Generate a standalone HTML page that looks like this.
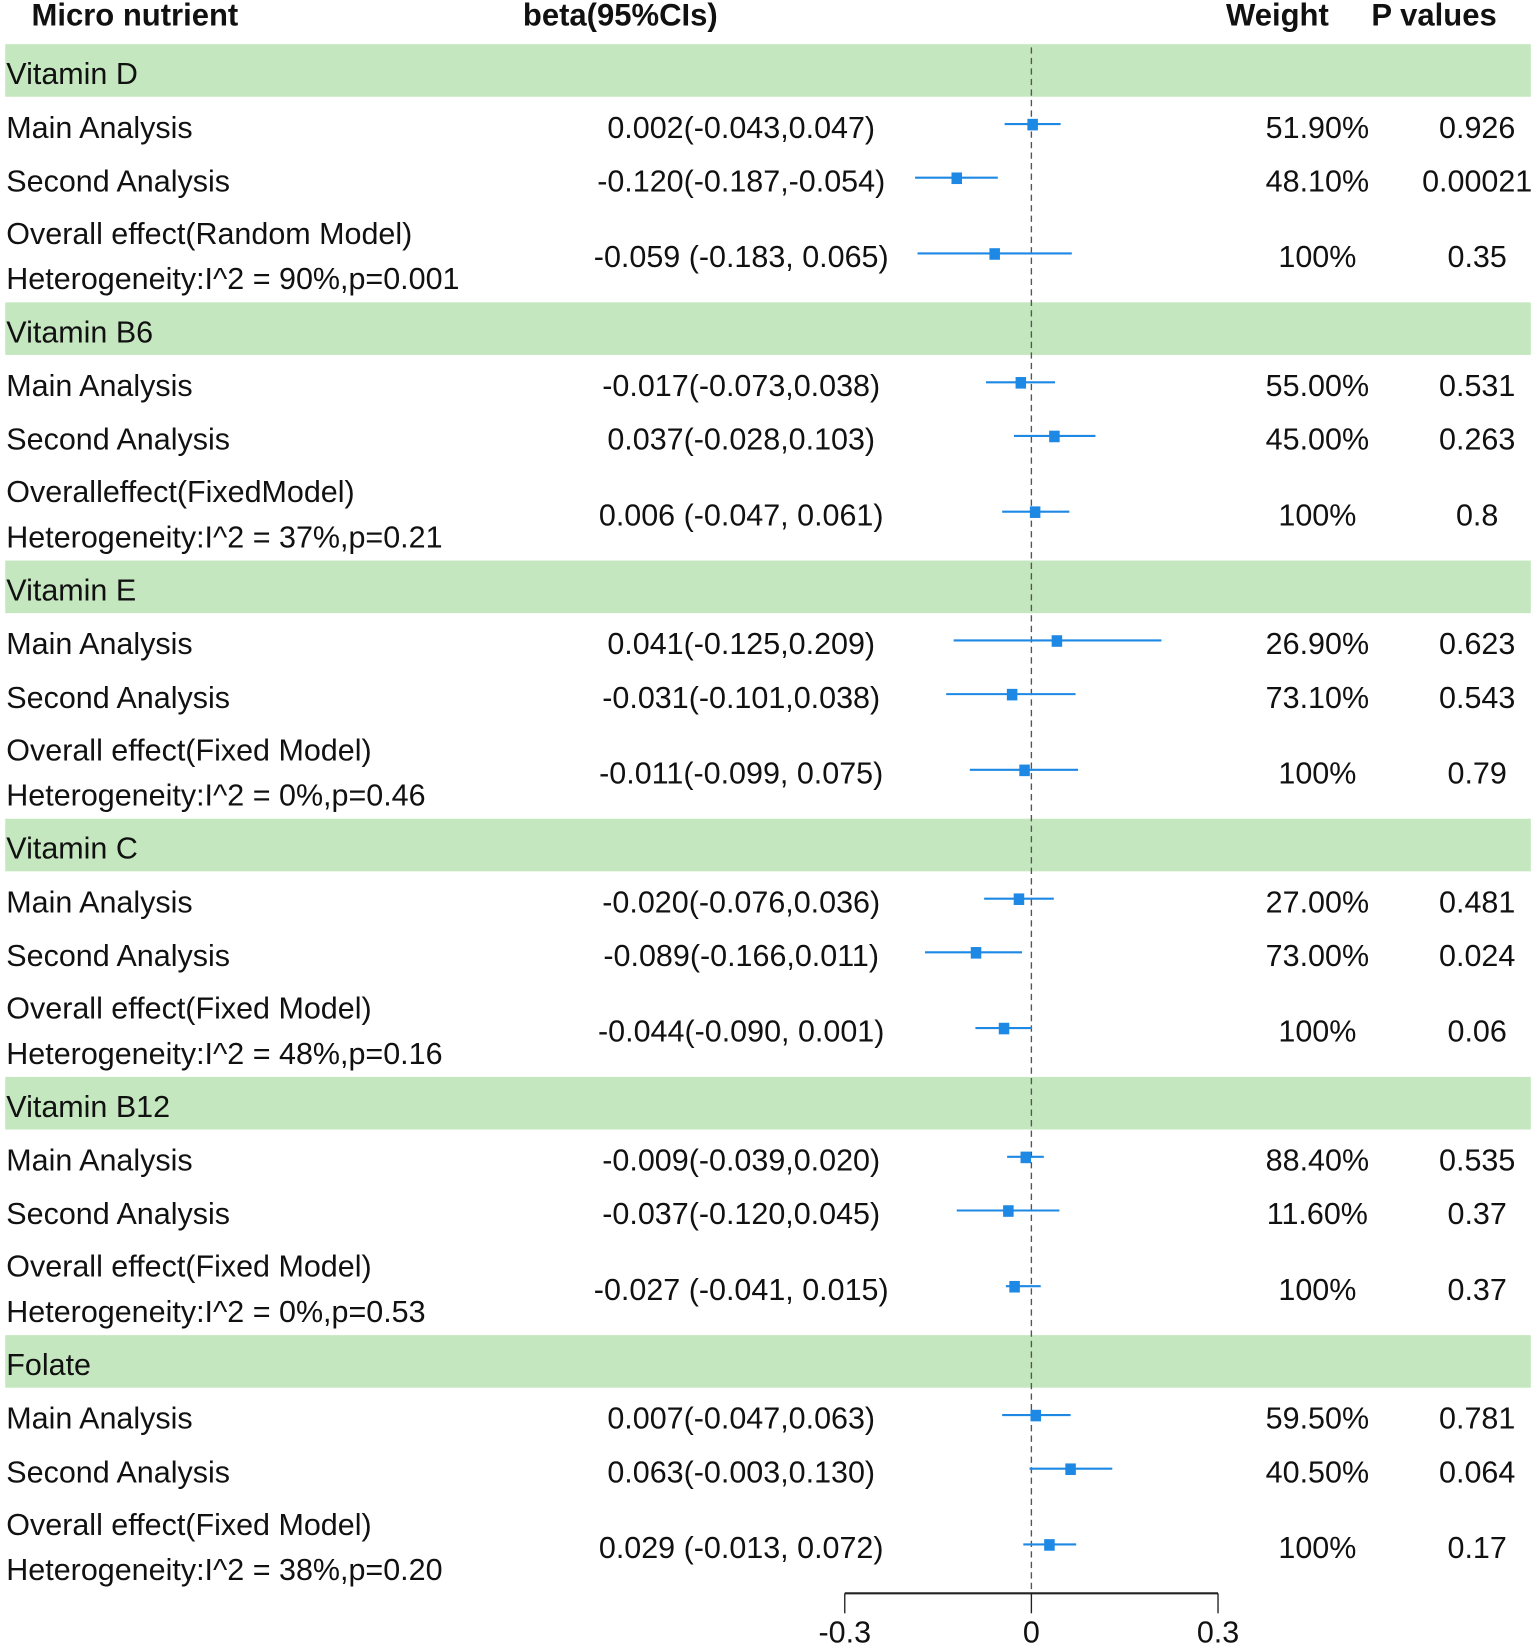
<!DOCTYPE html>
<html><head><meta charset="utf-8">
<style>
html,body{margin:0;padding:0;background:#fff;}
svg{display:block;font-family:"Liberation Sans",Arial,sans-serif;}
</style></head>
<body>
<svg id="chart" width="1535" height="1648" viewBox="0 0 1460 1567" preserveAspectRatio="none" xmlns="http://www.w3.org/2000/svg">
<g id="hdr" font-weight="bold" font-size="29.5" fill="#111">
<text x="30" y="24">Micro nutrient</text>
<text x="590" y="24" text-anchor="middle">beta(95%CIs)</text>
<text x="1215" y="24" text-anchor="middle">Weight</text>
<text x="1364" y="24" text-anchor="middle">P values</text>
</g>
<g id="bands"></g>
<g id="rows"></g>
<line id="zero" x1="981" x2="981" y1="45" y2="1514" stroke="#555" stroke-width="1.3" stroke-dasharray="6,4"/>
<g id="marks"></g>
<g id="axis"></g>
</svg>
<script>
const groups = ["Vitamin D","Vitamin B6","Vitamin E","Vitamin C","Vitamin B12","Folate"];
const overallLabels = ["Overall effect(Random Model)","Overalleffect(FixedModel)","Overall effect(Fixed Model)","Overall effect(Fixed Model)","Overall effect(Fixed Model)","Overall effect(Fixed Model)"];
const hetLabels = ["Heterogeneity:I^2 = 90%,p=0.001","Heterogeneity:I^2 = 37%,p=0.21","Heterogeneity:I^2 = 0%,p=0.46","Heterogeneity:I^2 = 48%,p=0.16","Heterogeneity:I^2 = 0%,p=0.53","Heterogeneity:I^2 = 38%,p=0.20"];
const est = [[0.002,-0.120,-0.059],[-0.017,0.037,0.006],[0.041,-0.031,-0.011],[-0.020,-0.089,-0.044],[-0.009,-0.037,-0.027],[0.007,0.063,0.029]];
const lo = [[-0.043,-0.187,-0.183],[-0.073,-0.028,-0.047],[-0.125,-0.137,-0.099],[-0.076,-0.171,-0.090],[-0.039,-0.120,-0.041],[-0.047,-0.003,-0.013]];
const hi = [[0.047,-0.054,0.065],[0.038,0.103,0.061],[0.209,0.071,0.075],[0.036,-0.015,0.001],[0.020,0.045,0.015],[0.063,0.130,0.072]];
const ciText = [["0.002(-0.043,0.047)","-0.120(-0.187,-0.054)","-0.059 (-0.183, 0.065)"],["-0.017(-0.073,0.038)","0.037(-0.028,0.103)","0.006 (-0.047, 0.061)"],["0.041(-0.125,0.209)","-0.031(-0.101,0.038)","-0.011(-0.099, 0.075)"],["-0.020(-0.076,0.036)","-0.089(-0.166,0.011)","-0.044(-0.090, 0.001)"],["-0.009(-0.039,0.020)","-0.037(-0.120,0.045)","-0.027 (-0.041, 0.015)"],["0.007(-0.047,0.063)","0.063(-0.003,0.130)","0.029 (-0.013, 0.072)"]];
const weights = [["51.90%","48.10%","100%"],["55.00%","45.00%","100%"],["26.90%","73.10%","100%"],["27.00%","73.00%","100%"],["88.40%","11.60%","100%"],["59.50%","40.50%","100%"]];
const pvals = [["0.926","0.00021","0.35"],["0.531","0.263","0.8"],["0.623","0.543","0.79"],["0.481","0.024","0.06"],["0.535","0.37","0.37"],["0.781","0.064","0.17"]];
const ticks = [-0.3,0,0.3];
const tickLabels = ["-0.3","0","0.3"];

const NS="http://www.w3.org/2000/svg";
const FS=29;
const x = v => 981 + v*591.7;
function mk(tag, attrs, parent, txt){const e=document.createElementNS(NS,tag);for(const k in attrs)e.setAttribute(k,attrs[k]);if(txt!==undefined)e.textContent=txt;parent.appendChild(e);return e;}
const bands=document.getElementById('bands'), rows=document.getElementById('rows'), marks=document.getElementById('marks'), axis=document.getElementById('axis');
const period=245.5;
groups.forEach((g,i)=>{
  const top=42+i*period;
  const b=mk('rect',{x:5,y:top,width:1451,height:50,fill:'#c5e7bf'},bands);
  
  
  const gl=mk('text',{x:6,y:top+38,'font-size':FS,fill:'#111'},rows,g);
  
  
  const rowY=[top+79, top+130, top+202];
  const markY=[top+76, top+127, top+199];
  const labels=["Main Analysis","Second Analysis",null];
  for(let r=0;r<3;r++){
    const by=rowY[r]+10;
    if(labels[r]){
      const t=mk('text',{x:6,y:by,'font-size':FS,fill:'#111'},rows,labels[r]);
      
      
    } else {
      const t1=mk('text',{x:6,y:top+190,'font-size':FS,fill:'#111'},rows,overallLabels[i]);
      
      
      const t2=mk('text',{x:6,y:top+233,'font-size':FS,fill:'#111'},rows,hetLabels[i]);
      
      
    }
    const c=mk('text',{x:705,y:by,'font-size':FS,fill:'#111','text-anchor':'middle'},rows,ciText[i][r]);
    
    
    const w=mk('text',{x:1253,y:by,'font-size':FS,fill:'#111','text-anchor':'middle'},rows,weights[i][r]);
    
    
    const p=mk('text',{x:1405,y:by,'font-size':FS,fill:'#111','text-anchor':'middle'},rows,pvals[i][r]);
    
    
    const my=markY[r];
    const l=mk('line',{x1:x(lo[i][r]),x2:x(hi[i][r]),y1:my,y2:my,stroke:'#1e88e5','stroke-width':2},marks);
    
    
    const s=mk('rect',{x:x(est[i][r])-5,y:my-5,width:10,height:11,fill:'#1e88e5'},marks);
    
    
  }
});
const al=mk('line',{x1:x(ticks[0]),x2:x(ticks[ticks.length-1]),y1:1515,y2:1515,stroke:'#222','stroke-width':2},axis);


ticks.forEach((t,k)=>{
  const tl=mk('line',{x1:x(t),x2:x(t),y1:1515,y2:1534,stroke:'#222','stroke-width':1.3},axis);
  
  
  const tx=mk('text',{x:x(t),y:1562,'font-size':FS,fill:'#111','text-anchor':'middle'},axis,tickLabels[k]);
  
  
});
</script>
</body></html>
